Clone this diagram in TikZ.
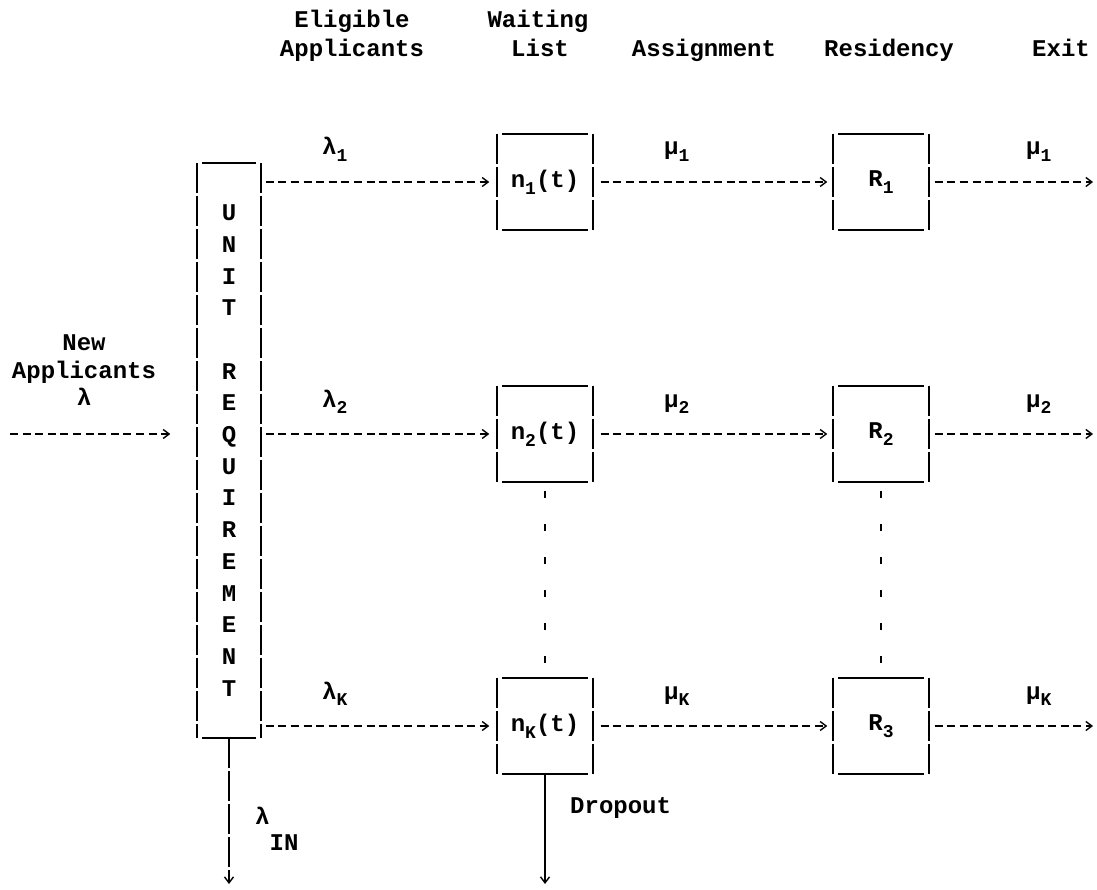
\documentclass[tikz,border=0pt]{standalone}
\usepackage{fontspec}
\setmainfont{Liberation Mono}
\usetikzlibrary{arrows.meta}

% lowered, smaller index as a typewriter sets it
\newcommand\lo[1]{\raisebox{-0.28em}{\fontsize{18}{18}\selectfont #1}}

\begin{document}
\begin{tikzpicture}[x=1pt,y=-1pt,
  every node/.style={font=\fontsize{24}{29}\selectfont\bfseries, inner sep=0pt},
  rule/.style={line width=2pt},
  bar/.style={line width=1.9pt, dash pattern=on 30pt off 3pt},
  tip/.style={-{Straight Barb[length=6pt,width=9pt,line width=1.4pt]}},
  flow/.style={line width=1.6pt, dash pattern=on 8pt off 4.6pt, tip},
  dots/.style={line width=2.2pt, dash pattern=on 7pt off 26pt, dash phase=24pt},
  cell/.style={minimum width=95pt, minimum height=96pt},
  head/.style={anchor=base},
  lab/.style={anchor=base west},
]
\useasboundingbox (0,0) rectangle (1097,890);

% column headings
\node[head] (hElig)   at (352,28) {Eligible};
\node[head] (hApp)    at (352,57) {Applicants};
\node[head] (hWait)   at (538,28) {Waiting};
\node[head] (hList)   at (540,57) {List};
\node[head] (hAssign) at (704,57) {Assignment};
\node[head] (hRes)    at (889,57) {Residency};
\node[head] (hExit)   at (1061,57) {Exit};

% the unit requirement column
\node[minimum width=63pt, minimum height=575pt, align=center,
      font=\fontsize{24}{31.7}\selectfont\bfseries] (unit) at (229,450.5)
  {U\\N\\I\\T\\~\\R\\E\\Q\\U\\I\\R\\E\\M\\E\\N\\T};

% waiting lists and residencies
\node[cell] (n1) at (545,182) {n\lo{1}(t)};
\node[cell] (n2) at (545,434) {n\lo{2}(t)};
\node[cell] (nK) at (545,726) {n\lo{K}(t)};
\node[cell] (R1) at (881,182) {R\lo{1}};
\node[cell] (R2) at (881,434) {R\lo{2}};
\node[cell] (R3) at (881,726) {R\lo{3}};

% box outlines: broken upright bars, inset top and bottom rules
\foreach \b in {unit,n1,n2,nK,R1,R2,R3}{
  \draw[bar] (\b.north west) -- (\b.south west);
  \draw[bar] (\b.north east) -- (\b.south east);
  \draw[rule] ([xshift=5pt]\b.north west) -- ([xshift=-5pt]\b.north east);
  \draw[rule] ([xshift=5pt]\b.south west) -- ([xshift=-5pt]\b.south east);
}

% incoming applicants
\coordinate (src) at (10,434);
\node[head] (newA) at (84,351) {New};
\node[head] (newB) at (84,378) {Applicants};
\node[head] (newC) at (84,405) {λ};
\draw[flow] (src) -- ([xshift=-27pt]unit.west |- src);

% eligible applicants to waiting lists
\draw[flow] ([xshift=5pt]unit.east |- n1.west) -- ([xshift=-8pt]n1.west);
\draw[flow] ([xshift=5pt]unit.east |- n2.west) -- ([xshift=-8pt]n2.west);
\draw[flow] ([xshift=5pt]unit.east |- nK.west) -- ([xshift=-8pt]nK.west);
\node[lab] (l1) at (322,155) {λ\lo{1}};
\node[lab] (l2) at (322,407) {λ\lo{2}};
\node[lab] (lK) at (322,699) {λ\lo{K}};

% assignment to residencies
\draw[flow] ([xshift=8pt]n1.east) -- ([xshift=-6pt]R1.west);
\draw[flow] ([xshift=8pt]n2.east) -- ([xshift=-6pt]R2.west);
\draw[flow] ([xshift=8pt]nK.east) -- ([xshift=-6pt]R3.west);
\node[lab] (m1) at (664,155) {μ\lo{1}};
\node[lab] (m2) at (664,407) {μ\lo{2}};
\node[lab] (mK) at (664,699) {μ\lo{K}};

% exits
\coordinate (x1) at (1093,182);
\coordinate (x2) at (1093,434);
\coordinate (xK) at (1093,726);
\draw[flow] ([xshift=6pt]R1.east) -- (x1);
\draw[flow] ([xshift=6pt]R2.east) -- (x2);
\draw[flow] ([xshift=6pt]R3.east) -- (xK);
\node[lab] (e1) at (1026,155) {μ\lo{1}};
\node[lab] (e2) at (1026,407) {μ\lo{2}};
\node[lab] (eK) at (1026,699) {μ\lo{K}};

% intermediate rows left out
\draw[dots] (n2.south) -- (nK.north);
\draw[dots] (R2.south) -- (R3.north);

% ineligible applicants and dropouts
\coordinate (ineli) at (229,884);
\coordinate (drop) at (545,884);
\draw[bar, tip] (unit.south) -- (ineli);
\draw[rule, tip] (nK.south) -- (drop);
\node[lab] (lin) at (255,824) {λ\raisebox{-26pt}{IN}};
\node[lab] (dlab) at (570,813) {Dropout};
\end{tikzpicture}
\end{document}
